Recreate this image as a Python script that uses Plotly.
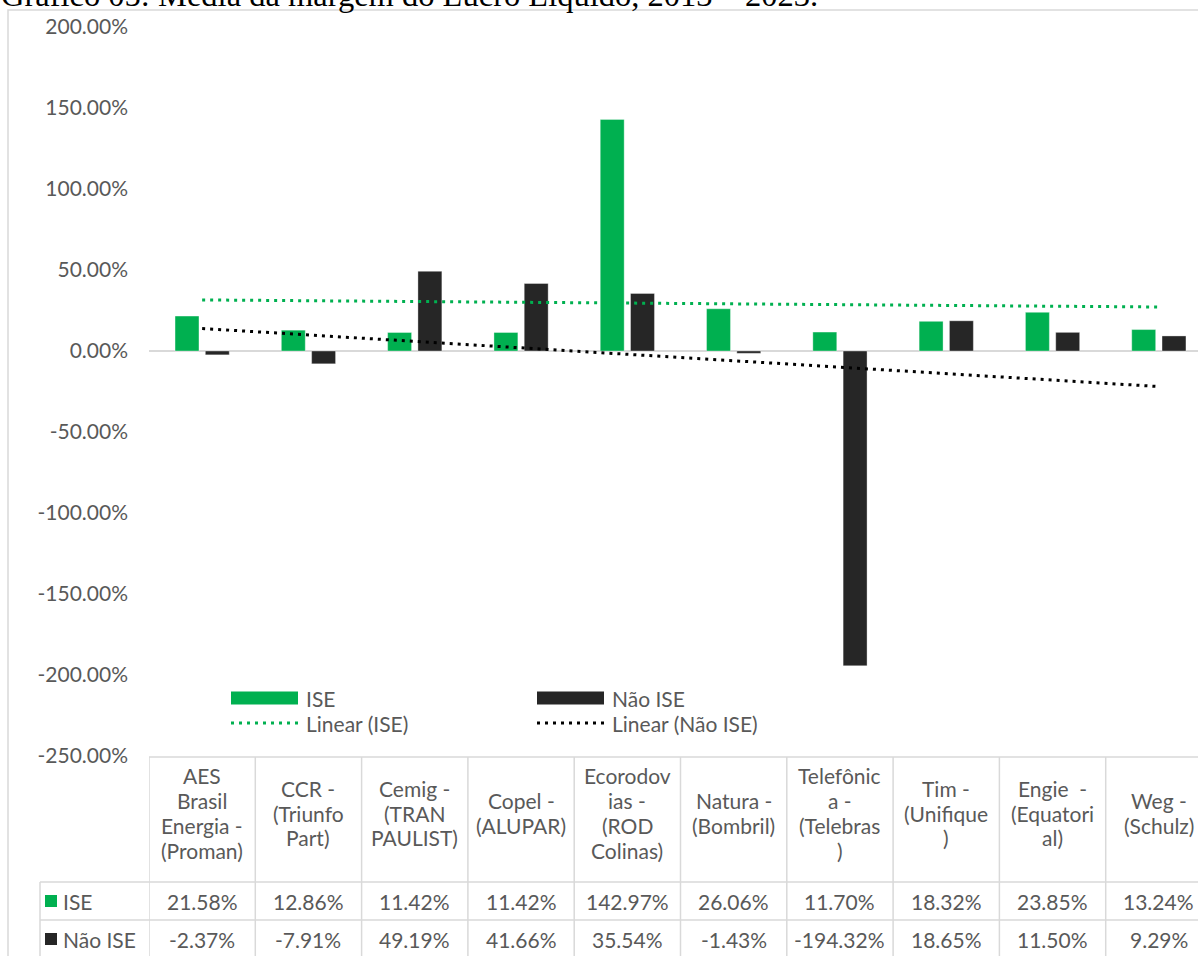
import numpy as np
import plotly.graph_objects as go

# ---------------- data ----------------
categories = [
    "AES Brasil Energia - (Proman)", "CCR - (Triunfo Part)", "Cemig - (TRAN PAULIST)",
    "Copel - (ALUPAR)", "Ecorodovias - (ROD Colinas)", "Natura - (Bombril)",
    "Telefônica - (Telebras)", "Tim - (Unifique)", "Engie  - (Equatorial)", "Weg - (Schulz)",
]
header_labels = [
    "AES\nBrasil\nEnergia -\n(Proman)", "CCR -\n(Triunfo\nPart)", "Cemig -\n(TRAN\nPAULIST)",
    "Copel -\n(ALUPAR)", "Ecorodov\nias -\n(ROD\nColinas)", "Natura -\n(Bombril)",
    "Telefônic\na -\n(Telebras\n)", "Tim -\n(Unifique\n)", "Engie  -\n(Equatori\nal)", "Weg -\n(Schulz)",
]
ise = [21.58, 12.86, 11.42, 11.42, 142.97, 26.06, 11.70, 18.32, 23.85, 13.24]
nao_ise = [-2.37, -7.91, 49.19, 41.66, 35.54, -1.43, -194.32, 18.65, 11.50, 9.29]
ytick_vals = [200, 150, 100, 50, 0, -50, -100, -150, -200, -250]
ytick_text = ["200.00%", "150.00%", "100.00%", "50.00%", "0.00%", "-50.00%",
              "-100.00%", "-150.00%", "-200.00%", "-250.00%"]
title_text = "Gráfico 05: Média da margem do Lucro Líquido, 2013 – 2023."

# ---------------- style ----------------
GREEN = "#00B050"
DARK = "#262626"
GRAY_TXT = "#595959"
BORDER = "#d9d9d9"
FONT = "Lato"
FS = 21

W, H = 1198, 956
L, T, B = 149, 27, 200
PW = W - L
PH = H - T - B


def px_x(px):
    return (px - L) / PW


def px_y(py):
    return (H - B - py) / PH


def fmt(v):
    return f"{v:.2f}%"


# trendlines (linear least squares, like Excel)
idx = np.arange(1, len(categories) + 1)
ise_fit = np.polyval(np.polyfit(idx, ise, 1), idx)
nao_fit = np.polyval(np.polyfit(idx, nao_ise, 1), idx)

fig = go.Figure()
fig.add_trace(go.Bar(x=categories, y=ise, name="ISE", marker_color=GREEN,
                     marker_line=dict(color="rgba(255,255,255,0.35)", width=1)))
fig.add_trace(go.Bar(x=categories, y=nao_ise, name="Não ISE", marker_color=DARK,
                     marker_line=dict(color="rgba(255,255,255,0.35)", width=1)))
fig.add_trace(go.Scatter(x=categories, y=ise_fit, mode="lines", name="Linear (ISE)",
                         line=dict(color=GREEN, width=3, dash="3px,5px")))
fig.add_trace(go.Scatter(x=categories, y=nao_fit, mode="lines", name="Linear (Não ISE)",
                         line=dict(color="#000000", width=3, dash="3px,5px")))

cat_w = 106.3  # px per category
x_right = -0.5 + PW / cat_w

shapes = []
annotations = []

# chart frame
shapes.append(dict(type="rect", xref="paper", yref="paper",
                   x0=px_x(8), x1=px_x(W + 50), y0=px_y(10), y1=px_y(H + 50),
                   line=dict(color=BORDER, width=1.5), layer="below"))

# title (partly cut at top, as in the reference)
annotations.append(dict(text=title_text, xref="paper", yref="paper",
                        x=px_x(-1), y=px_y(-5), xanchor="left", yanchor="middle",
                        showarrow=False,
                        font=dict(family="Liberation Serif", size=32.5, color="#000000")))

# ---------------- legend (manual) ----------------
leg = [
    ("rect", GREEN, "ISE", 231, 698),
    ("rect", DARK, "Não ISE", 537, 698),
    ("dot", GREEN, "Linear (ISE)", 231, 723),
    ("dot", "#000000", "Linear (Não ISE)", 537, 723),
]
for kind, col, label, x0, yc in leg:
    if kind == "rect":
        shapes.append(dict(type="rect", xref="paper", yref="paper",
                           x0=px_x(x0), x1=px_x(x0 + 67), y0=px_y(yc - 6.5), y1=px_y(yc + 6.5),
                           fillcolor=col, line=dict(width=0)))
    else:
        shapes.append(dict(type="line", xref="paper", yref="paper",
                           x0=px_x(x0), x1=px_x(x0 + 67), y0=px_y(yc), y1=px_y(yc),
                           line=dict(color=col, width=3, dash="3px,5px")))
    annotations.append(dict(text=label, xref="paper", yref="paper",
                            x=px_x(x0 + 73), y=px_y(yc), xanchor="left", yanchor="middle",
                            showarrow=False, font=dict(family=FONT, size=FS, color=GRAY_TXT)))

# ---------------- data table ----------------
y_top, y_h1, y_h2, y_bot = 757, 882, 920, 958
lab_left = 40
line_st = dict(color=BORDER, width=1.5)
shapes.append(dict(type="line", xref="paper", yref="paper", x0=px_x(L), x1=px_x(W + 20),
                   y0=px_y(y_top), y1=px_y(y_top), line=line_st))
for yy in (y_h1, y_h2):
    shapes.append(dict(type="line", xref="paper", yref="paper", x0=px_x(lab_left), x1=px_x(W + 20),
                       y0=px_y(yy), y1=px_y(yy), line=line_st))
shapes.append(dict(type="line", xref="paper", yref="paper", x0=px_x(lab_left), x1=px_x(lab_left),
                   y0=px_y(y_h1), y1=px_y(y_bot + 20), line=line_st))
for i in range(len(categories)):
    shapes.append(dict(type="line", xref="x", yref="paper", x0=i - 0.5, x1=i - 0.5,
                       y0=px_y(y_top), y1=px_y(y_bot + 20), line=line_st))

# header labels
hdr_center = 813
line_sp = 24.7
for i, lab in enumerate(header_labels):
    lines = lab.split("\n")
    n = len(lines)
    for j, ln in enumerate(lines):
        yc = hdr_center + (j - (n - 1) / 2) * line_sp
        annotations.append(dict(text=ln, xref="x", yref="paper", x=i, y=px_y(yc),
                                xanchor="center", yanchor="middle", showarrow=False,
                                font=dict(family=FONT, size=FS, color=GRAY_TXT)))

# value rows
rows = [("ISE", GREEN, ise, 901), ("Não ISE", DARK, nao_ise, 939)]
for name, col, vals, yc in rows:
    shapes.append(dict(type="rect", xref="paper", yref="paper",
                       x0=px_x(45), x1=px_x(57), y0=px_y(yc - 6), y1=px_y(yc + 6),
                       fillcolor=col, line=dict(width=0)))
    annotations.append(dict(text=name, xref="paper", yref="paper", x=px_x(61), y=px_y(yc),
                            xanchor="left", yanchor="middle", showarrow=False,
                            font=dict(family=FONT, size=FS, color=GRAY_TXT)))
    for i, v in enumerate(vals):
        annotations.append(dict(text=fmt(v), xref="x", yref="paper", x=i, y=px_y(yc),
                                xanchor="center", yanchor="middle", showarrow=False,
                                font=dict(family=FONT, size=FS, color=GRAY_TXT)))

fig.update_layout(
    width=W, height=H,
    margin=dict(l=L, r=0, t=T, b=B, pad=0),
    paper_bgcolor="white", plot_bgcolor="white",
    barmode="group", bargap=0.43, bargroupgap=0.21,
    showlegend=False,
    shapes=shapes, annotations=annotations,
    font=dict(family=FONT, size=FS, color=GRAY_TXT),
)
fig.update_xaxes(range=[-0.5, x_right], showticklabels=False, showgrid=False,
                 zeroline=False, showline=False, ticks="")
fig.update_yaxes(range=[-250, 200], tickvals=ytick_vals, ticktext=ytick_text,
                 showgrid=False, showline=False, ticks="", ticklabelstandoff=20,
                 zeroline=True, zerolinecolor=BORDER, zerolinewidth=1.5,
                 tickfont=dict(family=FONT, size=FS, color=GRAY_TXT))

fig.write_html(
    "out.html",
    config={"displayModeBar": False},
    post_script="document.body.style.margin='0';document.body.style.overflow='hidden';",
)
